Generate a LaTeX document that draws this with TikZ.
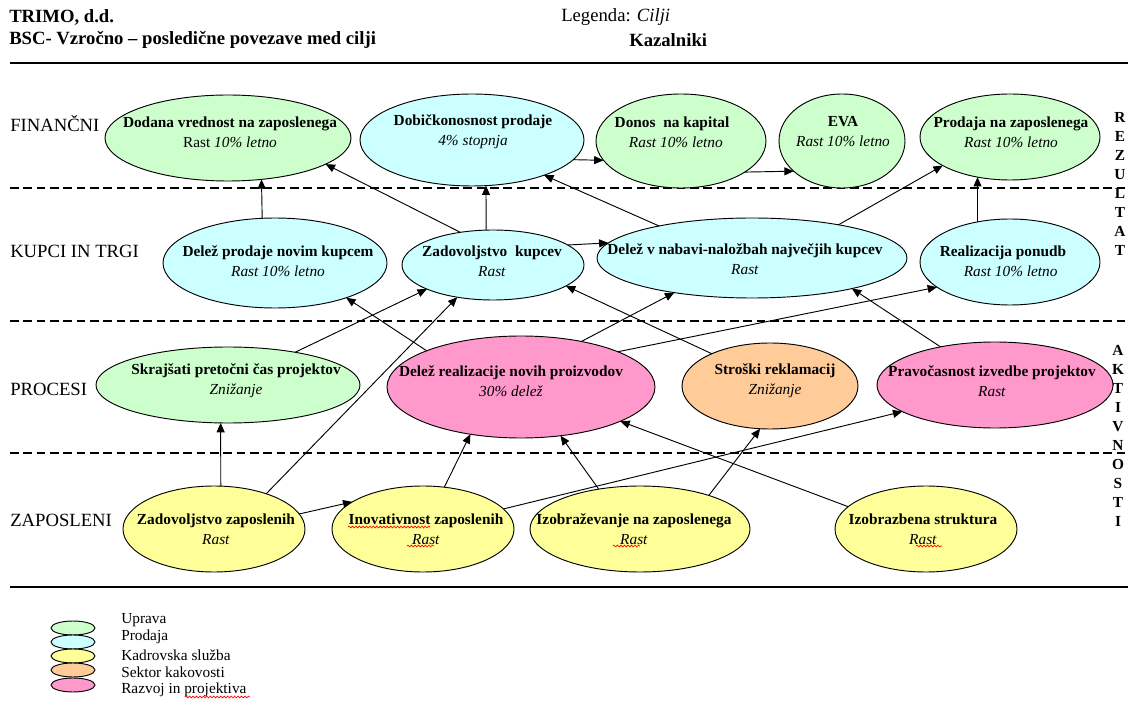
\documentclass[tikz,border=0pt]{standalone}
\usepackage{fontspec}
\setmainfont{Liberation Serif}
\usetikzlibrary{shapes.geometric,arrows.meta,decorations.pathmorphing}

\definecolor{uprava}{HTML}{CCFFCC}
\definecolor{prodaja}{HTML}{CCFFFF}
\definecolor{kadri}{HTML}{FFFF99}
\definecolor{kakovost}{HTML}{FFCC99}
\definecolor{razvoj}{HTML}{FF99CC}

\begin{document}
\begin{tikzpicture}[x=0.75pt,y=-0.75pt,
  goal/.style n args={3}{ellipse, draw, line width=0.7pt, fill=#1,
    minimum width=#2*1.5pt, minimum height=#3*1.5pt, inner sep=0pt, outer sep=0pt},
  ttl/.style={align=center, inner sep=0pt, font=\fontsize{11.5}{15}\selectfont},
  link/.style={line width=0.7pt, -{Triangle[length=7pt,width=6pt]}},
  lane/.style={line width=0.9pt, dash pattern=on 6.5pt off 3.5pt},
  rule/.style={line width=1.5pt},
  rowlbl/.style={anchor=west, inner sep=0pt, font=\fontsize{14}{16}\selectfont},
  head/.style={anchor=west, inner sep=0pt, font=\fontsize{14}{16}\selectfont},
  vert/.style={align=center, inner sep=0pt, font=\bfseries\fontsize{11.5}{14.2}\selectfont},
  leg/.style={anchor=west, inner sep=0pt, font=\fontsize{11.5}{13}\selectfont},
  wavy/.style={red, line width=0.5pt, decorate,
    decoration={snake, amplitude=0.7pt, segment length=2.6pt}}
]
\fill[white] (0,0) rectangle (1129,702);
\useasboundingbox (0,0) rectangle (1129,702);

% header
\node[head] (firm) at (9,17) {\textbf{TRIMO, d.d.}};
\node[head] (bsc) at (9,40) {\textbf{BSC- Vzročno – posledične povezave med cilji}};
\node[head] (legtop) at (561,17) {Legenda: \textit{Cilji}};
\node[head] (kaz) at (629,40) {\textbf{Kazalniki}};
\draw[rule] (10,63) -- (1128,63);

% perspective lanes
\draw[lane] (10,188) -- (1128,188);
\draw[lane] (10,321) -- (1128,321);
\draw[lane] (10,453) -- (1128,453);
\draw[rule] (10,587) -- (1128,587);

\node[rowlbl] (fin) at (10,124) {FINANČNI};
\node[rowlbl] (kup) at (10,251) {KUPCI IN TRGI};
\node[rowlbl] (pro) at (10,389) {PROCESI};
\node[rowlbl] (zap) at (10,520) {ZAPOSLENI};

\node[vert] (rez) at (1120,184) {R\\E\\Z\\U\\L\\T\\A\\T};
\node[vert] (akt) at (1118,436) {A\\K\\T\\I\\V\\N\\O\\S\\T\\I};

% financial goals
\node[goal={uprava}{123}{43}]   (E1) at (228,138) {};
\node[goal={prodaja}{112}{46}]  (E2) at (472,140) {};
\node[goal={uprava}{85}{47}]    (E3) at (681,141) {};
\node[goal={uprava}{63}{47}]    (E4) at (842,141) {};
\node[goal={uprava}{90}{43}]    (E5) at (1010,137) {};
% customer goals
\node[goal={prodaja}{112}{45}]  (F1) at (275,263) {};
\node[goal={prodaja}{91}{35}]   (F2) at (493,265) {};
\node[goal={prodaja}{155}{40}]  (F3) at (752,258) {};
\node[goal={prodaja}{90}{43}]   (F4) at (1010,262) {};
% process goals
\node[goal={uprava}{132}{38}]   (G1) at (228,385) {};
\node[goal={razvoj}{134}{51}]   (G2) at (521,387) {};
\node[goal={kakovost}{88}{43}]  (G3) at (770,386) {};
\node[goal={razvoj}{118}{43}]   (G4) at (995,385) {};
% employee goals
\node[goal={kadri}{91}{43}]     (H1) at (214,529) {};
\node[goal={kadri}{91}{43}]     (H2) at (423,529) {};
\node[goal={kadri}{110}{43}]    (H3) at (640,529) {};
\node[goal={kadri}{91}{43}]     (H4) at (926,529) {};

% goal texts
\node[ttl] (E1t) at (230,132) {\textbf{Dodana vrednost na zaposlenega}\\Rast \textit{10\% letno}};
\node[ttl] (E2t) at (473,132) {\textbf{Dobičkonosnost prodaje}\\\textit{4\% stopnja}};
\node[ttl] (E3t) at (672,132) {\textbf{Donos~ na kapital}\\\textit{~~Rast 10\% letno}};
\node[ttl] (E4t) at (843,132) {\textbf{EVA}\\\textit{Rast 10\% letno}};
\node[ttl] (E5t) at (1011,132) {\textbf{Prodaja na zaposlenega}\\\textit{Rast 10\% letno}};

\node[ttl] (F1t) at (278,261) {\textbf{Delež prodaje novim kupcem}\\\textit{Rast 10\% letno}};
\node[ttl] (F2t) at (492,261) {\textbf{Zadovoljstvo~ kupcev}\\\textit{Rast}};
\node[ttl] (F3t) at (745,259) {\textbf{Delež v nabavi-naložbah največjih kupcev}\\\textit{Rast}};
\node[ttl] (F4t) at (1003,261) {\textbf{Realizacija ponudb}\\\textit{~~~~Rast 10\% letno}};

\node[ttl] (G1t) at (236,381) {\textbf{Skrajšati pretočni čas projektov}\\\textit{Znižanje}};
\node[ttl] (G2t) at (511,381) {\textbf{Delež realizacije novih proizvodov}\\\textit{30\% delež}};
\node[ttl] (G3t) at (775,381) {\textbf{Stroški reklamacij}\\\textit{Znižanje}};
\node[ttl] (G4t) at (992,381) {\textbf{Pravočasnost izvedbe projektov}\\\textit{Rast}};

\node[ttl] (H1t) at (216,529) {\textbf{Zadovoljstvo zaposlenih}\\\textit{Rast}};
\node[ttl] (H2t) at (426,529) {\textbf{Inovativnost zaposlenih}\\\textit{Rast}};
\node[ttl] (H3t) at (634,529) {\textbf{Izobraževanje na zaposlenega}\\\textit{Rast}};
\node[ttl] (H4t) at (923,529) {\textbf{Izobrazbena struktura}\\\textit{Rast}};

% spelling marks
\draw[wavy] (348,527) -- (430,527);
\draw[wavy] (407,546) -- (434,546);
\draw[wavy] (613,546) -- (640,546);
\draw[wavy] (916,546) -- (942,546);

% cause and effect links
\draw[link] (F1.106) -- (E1.-51);
\draw[link] (F2.135) -- (E1.-15.6);
\draw[link] (F2.101) -- (E2.-73);
\draw[link] (F2.15.6) -- (F3.174.2);
\draw[link] (F3.161.6) -- (E2.-26.9);
\draw[link] (F3.21.1) -- (E5.-157.6);
\draw[link] (F4.129) -- (E5.-129.7);
\draw[link] (E2.-11.1) -- (E3.-166);
\draw[link] (E3.-26.9) -- (E4.-148.3);

\draw[link] (G1.26.2) -- (F2.-160.8);
\draw[link] (G2.159.2) -- (F1.-26.9);
\draw[link] (G2.37.2) -- (F3.-156.7);
\draw[link] (G2.20.4) -- (F4.-161.1);
\draw[link] (G3.151.6) -- (F2.-16.6);
\draw[link] (G4.145) -- (F3.-17);

\draw[link] (H1.81.9) -- (G1.-101.9);
\draw[link] (H1.34.5) -- (F2.-138);
\draw[link] (H1.10.3) -- (H2.159.8);
\draw[link] (H2.63.4) -- (G2.-137.3);
\draw[link] (H2.14) -- (G4.-164.6);
\draw[link] (H3.136.4) -- (G2.-51.5);
\draw[link] (H3.26.6) -- (G3.-103.4);
\draw[link] (H4.164.7) -- (G2.-19.6);

% legend
\node[goal={uprava}{22}{7}]   (L1) at (73,628) {};
\node[goal={prodaja}{22}{7}]  (L2) at (73,642) {};
\node[goal={kadri}{22}{7}]    (L3) at (73,656) {};
\node[goal={kakovost}{22}{7}] (L4) at (73,670) {};
\node[goal={razvoj}{22}{7}]   (L5) at (73,685) {};
\node[leg] (L1t) at (121,620) {Uprava};
\node[leg] (L2t) at (121,637) {Prodaja};
\node[leg] (L3t) at (121,655) {Kadrovska služba};
\node[leg] (L4t) at (121,672) {Sektor kakovosti};
\node[leg] (L5t) at (121,690) {Razvoj in projektiva};
\draw[wavy] (185,697) -- (250,697);
\end{tikzpicture}
\end{document}
